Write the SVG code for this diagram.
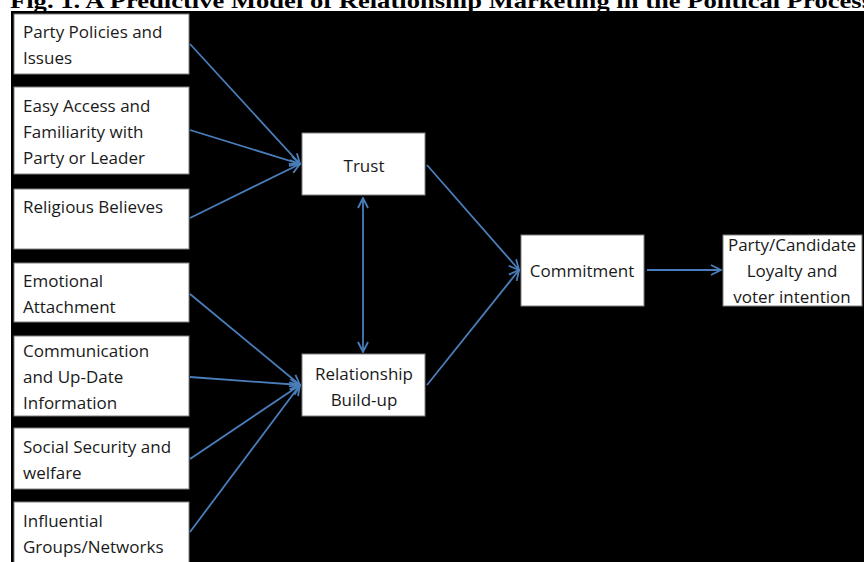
<svg xmlns="http://www.w3.org/2000/svg" width="864" height="562" viewBox="0 0 864 562">
<defs>
<style>
.bx{fill:#fff;stroke:#7f7f7f;stroke-width:1}
.t{font-family:"Open Sans","Liberation Sans",sans-serif;font-size:17px;fill:#1a1a1a}
.c{text-anchor:middle}
.ln{stroke:#4a7ebb;stroke-width:1.8;fill:none}
.title{font-family:"Liberation Serif","Times New Roman",serif;font-weight:bold;font-size:21px;fill:#000}
</style>
<marker id="ah" viewBox="0 0 12 12" refX="11" refY="6" markerWidth="12" markerHeight="12" markerUnits="userSpaceOnUse" orient="auto-start-reverse">
<path d="M1,1 L11,6 L1,11" fill="none" stroke="#4a7ebb" stroke-width="1.8"/>
</marker>
</defs>
<rect x="0" y="0" width="864" height="562" fill="#fff"/>
<text class="title" x="10" y="7.5" textLength="862" lengthAdjust="spacingAndGlyphs">Fig. 1. A Predictive Model of Relationship Marketing in the Political Process</text>
<rect x="11" y="11" width="853" height="551" fill="#000"/>
<g id="connectors">
<line class="ln" x1="190" y1="44" x2="300" y2="164" marker-end="url(#ah)"/>
<line class="ln" x1="190" y1="130" x2="300" y2="164" marker-end="url(#ah)"/>
<line class="ln" x1="190" y1="218" x2="300" y2="164" marker-end="url(#ah)"/>
<line class="ln" x1="190" y1="294" x2="300" y2="385" marker-end="url(#ah)"/>
<line class="ln" x1="190" y1="377" x2="300" y2="385" marker-end="url(#ah)"/>
<line class="ln" x1="190" y1="459" x2="300" y2="385" marker-end="url(#ah)"/>
<line class="ln" x1="190" y1="532" x2="300" y2="385" marker-end="url(#ah)"/>
<line class="ln" x1="427" y1="165" x2="519" y2="270" marker-end="url(#ah)"/>
<line class="ln" x1="427" y1="385" x2="519" y2="270" marker-end="url(#ah)"/>
<line class="ln" x1="647" y1="270" x2="721" y2="270" marker-end="url(#ah)"/>
<line class="ln" x1="363" y1="198" x2="363" y2="352" marker-start="url(#ah)" marker-end="url(#ah)"/>
</g>
<g id="n1"><rect class="bx" x="14" y="14" width="175" height="60"/><text class="t" x="23" y="38">Party Policies and</text><text class="t" x="23" y="64">Issues</text></g>
<g id="n2"><rect class="bx" x="14" y="87" width="175" height="87"/><text class="t" x="23" y="112">Easy Access and</text><text class="t" x="23" y="138">Familiarity with</text><text class="t" x="23" y="164">Party or Leader</text></g>
<g id="n3"><rect class="bx" x="14" y="189" width="175" height="60"/><text class="t" x="23" y="213">Religious Believes</text></g>
<g id="n4"><rect class="bx" x="14" y="263" width="175" height="59"/><text class="t" x="23" y="287">Emotional</text><text class="t" x="23" y="313">Attachment</text></g>
<g id="n5"><rect class="bx" x="14" y="336" width="175" height="80"/><text class="t" x="23" y="357">Communication</text><text class="t" x="23" y="383">and Up-Date</text><text class="t" x="23" y="409">Information</text></g>
<g id="n6"><rect class="bx" x="14" y="428" width="175" height="61"/><text class="t" x="23" y="453">Social Security and</text><text class="t" x="23" y="479">welfare</text></g>
<g id="n7"><rect class="bx" x="14" y="502" width="175" height="70"/><text class="t" x="23" y="527">Influential</text><text class="t" x="23" y="553">Groups/Networks</text></g>
<g id="trust"><rect class="bx" x="302" y="133" width="123" height="62"/><text class="t c" x="364" y="172">Trust</text></g>
<g id="relationship"><rect class="bx" x="302" y="354" width="123" height="62"/><text class="t c" x="364" y="380">Relationship</text><text class="t c" x="364" y="406">Build-up</text></g>
<g id="commitment"><rect class="bx" x="521" y="235" width="123" height="71"/><text class="t c" x="582" y="277">Commitment</text></g>
<g id="loyalty"><rect class="bx" x="723" y="235" width="139" height="71"/><text class="t c" x="792" y="251">Party/Candidate</text><text class="t c" x="792" y="277">Loyalty and</text><text class="t c" x="792" y="303">voter intention</text></g>
</svg>
